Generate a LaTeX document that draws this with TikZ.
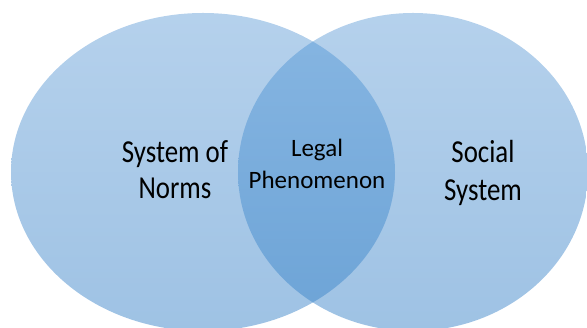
\documentclass[tikz,border=0pt]{standalone}
\usepackage{fontspec}
\setmainfont{Carlito}
\usetikzlibrary{positioning}

\definecolor{onetop}{RGB}{181,209,236}
\definecolor{onebot}{RGB}{158,194,228}
\definecolor{twotop}{RGB}{135,182,226}
\definecolor{twobot}{RGB}{108,163,214}

\tikzset{
    onefill/.style={top color=onetop, bottom color=onebot},
    twofill/.style={top color=twotop, bottom color=twobot},
    bigtext/.style={align=center, text=black, xscale=0.84, font=\fontsize{32}{36}\selectfont},
    midtext/.style={align=center, text=black, font=\fontsize{25}{32}\selectfont}
}

\begin{document}
\begin{tikzpicture}[x=1pt, y=1pt]
    % ছবির সীমা
    \useasboundingbox (0,0) rectangle (587,328);
    \clip (0,0) rectangle (587,328);

    % দুই উপবৃত্তের কেন্দ্র
    \coordinate (L) at (203,156);
    \coordinate (R) at (413,156);

    % উপবৃত্ত অঙ্কন
    \shade[onefill] (L) ellipse [x radius=192, y radius=159];
    \shade[onefill] (R) ellipse [x radius=175, y radius=159];
    % ছেদ অংশ
    \begin{scope}
        \clip (L) ellipse [x radius=192, y radius=159];
        \shade[twofill] (R) ellipse [x radius=175, y radius=159];
    \end{scope}

    % লেবেল প্রদান
    \node[bigtext] (norms) at (175,158) {System of\\Norms};
    \node[midtext] (legal) at (317,164) {Legal\\Phenomenon};
    \node[bigtext, font=\fontsize{32}{38}\selectfont] (social) at (483,155) {Social\\System};
\end{tikzpicture}
\end{document}
